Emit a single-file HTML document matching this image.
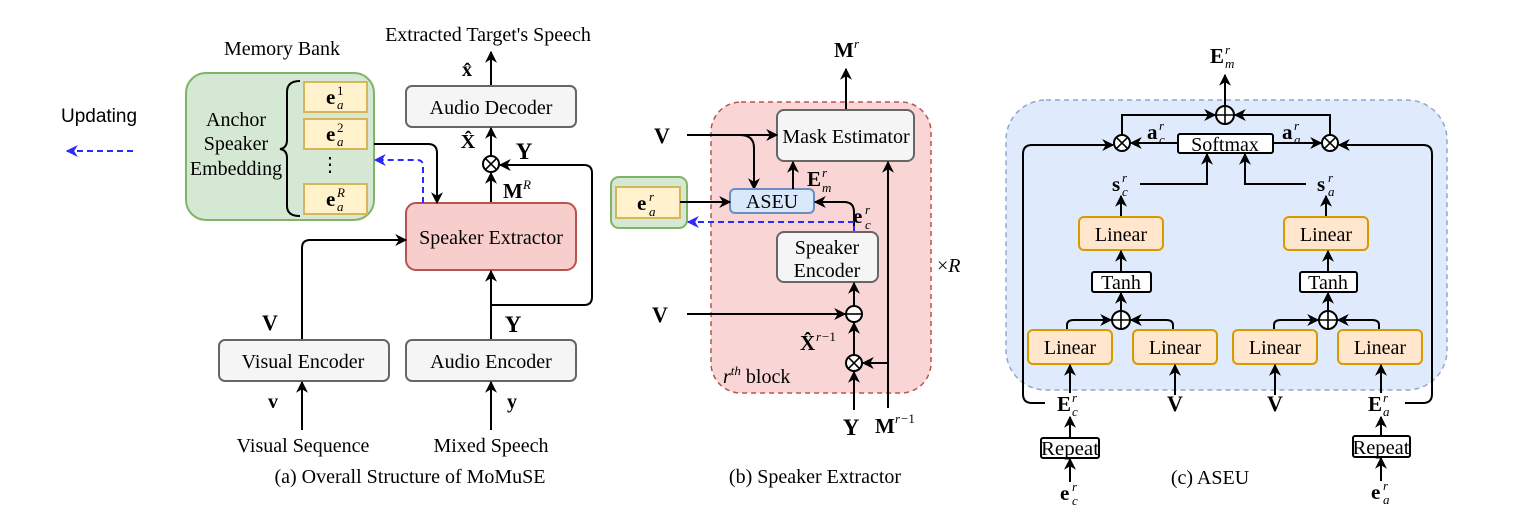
<!DOCTYPE html>
<html><head><meta charset="utf-8"><style>
html,body{margin:0;padding:0;background:#fff}
svg{display:block}
text{font-family:"Liberation Serif",serif;fill:#000}
.t{font-size:20px}
.b{font-weight:bold}
.s{font-size:13px}
.ln{stroke:#000;stroke-width:2;fill:none}
</style></head><body>
<svg width="1528" height="526" viewBox="0 0 1528 526" xmlns="http://www.w3.org/2000/svg">
<defs>
<marker id="a" viewBox="0 0 10 10" refX="9" refY="5" markerWidth="12" markerHeight="12" orient="auto" markerUnits="userSpaceOnUse"><path d="M0,0 L10,5 L0,10 L3,5z" fill="#000"/></marker>
<marker id="bl" viewBox="0 0 10 10" refX="9" refY="5" markerWidth="12" markerHeight="12" orient="auto" markerUnits="userSpaceOnUse"><path d="M0,0 L10,5 L0,10 L3,5z" fill="#2a2aff"/></marker>
</defs>

<!-- ===== Panel (a) ===== -->
<text x="99" y="122" text-anchor="middle" style="font-family:'Liberation Sans',sans-serif;font-size:19px">Updating</text>
<line x1="133" y1="151" x2="67" y2="151" stroke="#2a2aff" stroke-width="2" stroke-dasharray="6,4" marker-end="url(#bl)"/>

<text x="282" y="55" text-anchor="middle" class="t">Memory Bank</text>
<rect x="186" y="73" width="188" height="147" rx="20" fill="#d5e8d4" stroke="#82b366" stroke-width="2"/>
<text x="236" y="126" text-anchor="middle" class="t">Anchor</text>
<text x="236" y="150" text-anchor="middle" class="t">Speaker</text>
<text x="236" y="175" text-anchor="middle" class="t">Embedding</text>
<path d="M300,81 Q287,81 287,92 L287,140 Q287,148 280,149 Q287,150 287,158 L287,206 Q287,216 300,216" class="ln" stroke-width="1.6"/>
<rect x="304" y="82" width="63" height="30" fill="#fff2cc" stroke="#d6b656" stroke-width="2"/>
<rect x="304" y="119" width="63" height="30" fill="#fff2cc" stroke="#d6b656" stroke-width="2"/>
<rect x="304" y="184" width="63" height="30" fill="#fff2cc" stroke="#d6b656" stroke-width="2"/>
<text x="326" y="104" class="b" font-size="21">e</text><text x="337" y="95" class="s">1</text><text x="337" y="109" class="s" font-style="italic">a</text>
<text x="326" y="141" class="b" font-size="21">e</text><text x="337" y="132" class="s">2</text><text x="337" y="146" class="s" font-style="italic">a</text>
<text x="326" y="206" class="b" font-size="21">e</text><text x="337" y="197" class="s" font-style="italic">R</text><text x="337" y="211" class="s" font-style="italic">a</text>
<text x="330" y="171" text-anchor="middle" class="t">⋮</text>

<text x="488" y="41" text-anchor="middle" class="t">Extracted Target's Speech</text>
<line x1="491" y1="86" x2="491" y2="52" class="ln" marker-end="url(#a)"/>
<text x="467" y="76" text-anchor="middle" class="t b">x̂</text>
<rect x="406" y="86" width="170" height="41" rx="6" fill="#f5f5f5" stroke="#666" stroke-width="2"/>
<text x="491" y="114" text-anchor="middle" class="t" fill="#333">Audio Decoder</text>
<text x="468" y="148" text-anchor="middle" class="t b">X̂</text>
<line x1="491" y1="155" x2="491" y2="128" class="ln" marker-end="url(#a)"/>
<circle cx="491" cy="164" r="8" fill="#fff" stroke="#000" stroke-width="2"/>
<path d="M485.3,158.3 L496.7,169.7 M496.7,158.3 L485.3,169.7" stroke="#000" stroke-width="1.6"/>
<text x="524" y="159" text-anchor="middle" class="b" font-size="23">Y</text>
<path d="M491,305 L584,305 Q592,305 592,297 L592,173 Q592,165 584,165 L500,165" class="ln" marker-end="url(#a)"/>
<text x="503" y="198" class="b" font-size="21">M</text><text x="523" y="189" class="s" font-style="italic">R</text>
<line x1="491" y1="203" x2="491" y2="173" class="ln" marker-end="url(#a)"/>
<rect x="406" y="203" width="170" height="67" rx="10" fill="#f8cecc" stroke="#b85450" stroke-width="2"/>
<text x="491" y="244" text-anchor="middle" class="t">Speaker Extractor</text>
<path d="M374,144 L428,144 Q437,144 437,153 L437,203" class="ln" marker-end="url(#a)"/>
<path d="M423,203 L423,166 Q423,160 417,160 L375,160" fill="none" stroke="#2a2aff" stroke-width="2" stroke-dasharray="6,4" marker-end="url(#bl)"/>
<path d="M302,340 L302,248 Q302,240 310,240 L406,240" class="ln" marker-end="url(#a)"/>
<line x1="491" y1="340" x2="491" y2="271" class="ln" marker-end="url(#a)"/>
<text x="270" y="330" text-anchor="middle" class="b" font-size="22">V</text>
<text x="513" y="332" text-anchor="middle" class="b" font-size="23">Y</text>
<rect x="219" y="340" width="170" height="41" rx="6" fill="#f5f5f5" stroke="#666" stroke-width="2"/>
<text x="303" y="368" text-anchor="middle" class="t" fill="#333">Visual Encoder</text>
<rect x="406" y="340" width="170" height="41" rx="6" fill="#f5f5f5" stroke="#666" stroke-width="2"/>
<text x="491" y="368" text-anchor="middle" class="t" fill="#333">Audio Encoder</text>
<line x1="302" y1="430" x2="302" y2="382" class="ln" marker-end="url(#a)"/>
<line x1="491" y1="430" x2="491" y2="382" class="ln" marker-end="url(#a)"/>
<text x="273" y="408" text-anchor="middle" class="t b">v</text>
<text x="512" y="408" text-anchor="middle" class="t b">y</text>
<text x="303" y="452" text-anchor="middle" class="t">Visual Sequence</text>
<text x="491" y="452" text-anchor="middle" class="t">Mixed Speech</text>
<text x="410" y="483" text-anchor="middle" class="t">(a) Overall Structure of MoMuSE</text>

<!-- ===== Panel (b) ===== -->
<rect x="711" y="102" width="220" height="291" rx="30" fill="#f9d6d5" stroke="#b85450" stroke-width="1.5" stroke-dasharray="5,4"/>
<text x="834" y="57" class="b" font-size="21">M</text><text x="854" y="48" class="s" font-style="italic">r</text>
<line x1="846" y1="110" x2="846" y2="69" class="ln" marker-end="url(#a)"/>
<rect x="777" y="110" width="137" height="51" rx="7" fill="#f5f5f5" stroke="#666" stroke-width="2"/>
<text x="846" y="143" text-anchor="middle" class="t" fill="#333">Mask Estimator</text>
<text x="662" y="143" text-anchor="middle" class="b" font-size="22">V</text>
<line x1="687" y1="135" x2="777" y2="135" class="ln" marker-end="url(#a)"/>
<path d="M740,135 Q754,135 754,148 L754,189" class="ln" marker-end="url(#a)"/>
<rect x="730" y="189" width="84" height="24" rx="5" fill="#dae8fc" stroke="#6c8ebf" stroke-width="2"/>
<text x="772" y="208" text-anchor="middle" class="t">ASEU</text>
<line x1="793" y1="189" x2="793" y2="162" class="ln" marker-end="url(#a)"/>
<text x="807" y="186" class="b" font-size="21">E</text><text x="822" y="177" class="s" font-style="italic">r</text><text x="822" y="192" class="s" font-style="italic">m</text>
<rect x="611" y="177" width="76" height="51" rx="8" fill="#d5e8d4" stroke="#82b366" stroke-width="2"/>
<rect x="616" y="187" width="64" height="31" fill="#fff2cc" stroke="#d6b656" stroke-width="2"/>
<text x="637" y="210" class="b" font-size="21">e</text><text x="649" y="201" class="s" font-style="italic">r</text><text x="649" y="216" class="s" font-style="italic">a</text>
<line x1="680" y1="202" x2="730" y2="202" class="ln" marker-end="url(#a)"/>
<path d="M854,232 L854,212 Q854,202 844,202 L815,202" class="ln" marker-end="url(#a)"/>
<path d="M854,232 L854,222 L688,222" fill="none" stroke="#2a2aff" stroke-width="2" stroke-dasharray="6,4" marker-end="url(#bl)"/>
<text x="853" y="223" class="b" font-size="21">e</text><text x="865" y="214" class="s" font-style="italic">r</text><text x="865" y="229" class="s" font-style="italic">c</text>
<rect x="777" y="232" width="101" height="50" rx="7" fill="#f5f5f5" stroke="#666" stroke-width="2"/>
<text x="827" y="254" text-anchor="middle" class="t" fill="#333">Speaker</text>
<text x="827" y="277" text-anchor="middle" class="t" fill="#333">Encoder</text>
<text x="937" y="272" class="t">×<tspan font-style="italic">R</tspan></text>
<line x1="888" y1="408" x2="888" y2="162" class="ln" marker-end="url(#a)"/>
<text x="660" y="322" text-anchor="middle" class="b" font-size="22">V</text>
<line x1="687" y1="314" x2="845" y2="314" class="ln" marker-end="url(#a)"/>
<circle cx="854" cy="314" r="8" fill="#fff" stroke="#000" stroke-width="2"/>
<line x1="846" y1="314" x2="862" y2="314" stroke="#000" stroke-width="1.6"/>
<line x1="854" y1="306" x2="854" y2="283" class="ln" marker-end="url(#a)"/>
<text x="800" y="350" class="b" font-size="21">X̂</text><text x="816" y="341" class="s" font-style="italic">r</text><text x="822" y="341" class="s">−1</text>
<line x1="854" y1="355" x2="854" y2="323" class="ln" marker-end="url(#a)"/>
<circle cx="854" cy="363" r="8" fill="#fff" stroke="#000" stroke-width="2"/>
<path d="M848.3,357.3 L859.7,368.7 M859.7,357.3 L848.3,368.7" stroke="#000" stroke-width="1.6"/>
<line x1="888" y1="363" x2="863" y2="363" class="ln" marker-end="url(#a)"/>
<line x1="854" y1="410" x2="854" y2="372" class="ln" marker-end="url(#a)"/>
<text x="851" y="435" text-anchor="middle" class="b" font-size="23">Y</text>
<text x="875" y="433" class="b" font-size="21">M</text><text x="895" y="423" class="s" font-style="italic">r</text><text x="901" y="423" class="s">−1</text>
<text x="723" y="383" class="t"><tspan font-style="italic">r</tspan><tspan font-size="13" font-style="italic" dy="-8">th</tspan><tspan dy="8"> block</tspan></text>
<text x="815" y="483" text-anchor="middle" class="t">(b) Speaker Extractor</text>

<!-- ===== Panel (c) ===== -->
<rect x="1006" y="100" width="441" height="290" rx="40" fill="#dfeafc" stroke="#8fa9cc" stroke-width="1.5" stroke-dasharray="5,4"/>
<text x="1210" y="63" class="b" font-size="21">E</text><text x="1225" y="54" class="s" font-style="italic">r</text><text x="1225" y="68" class="s" font-style="italic">m</text>
<line x1="1225" y1="106" x2="1225" y2="75" class="ln" marker-end="url(#a)"/>
<circle cx="1225" cy="115" r="9" fill="#fff" stroke="#000" stroke-width="2"/>
<path d="M1216,115 L1234,115 M1225,106 L1225,124" stroke="#000" stroke-width="1.6"/>
<path d="M1122,135 L1122,115 L1215,115" class="ln" marker-end="url(#a)"/>
<path d="M1330,135 L1330,115 L1235,115" class="ln" marker-end="url(#a)"/>
<rect x="1178" y="134" width="95" height="19" rx="2" fill="#fff" stroke="#000" stroke-width="2"/>
<text x="1225" y="151" text-anchor="middle" class="t">Softmax</text>
<circle cx="1122" cy="143" r="8" fill="#fff" stroke="#000" stroke-width="2"/>
<path d="M1116.3,137.3 L1127.7,148.7 M1127.7,137.3 L1116.3,148.7" stroke="#000" stroke-width="1.6"/>
<circle cx="1330" cy="143" r="8" fill="#fff" stroke="#000" stroke-width="2"/>
<path d="M1324.3,137.3 L1335.7,148.7 M1335.7,137.3 L1324.3,148.7" stroke="#000" stroke-width="1.6"/>
<line x1="1178" y1="143" x2="1131" y2="143" class="ln" marker-end="url(#a)"/>
<line x1="1273" y1="143" x2="1321" y2="143" class="ln" marker-end="url(#a)"/>
<text x="1147" y="139" class="b" font-size="21">a</text><text x="1159" y="130" class="s" font-style="italic">r</text><text x="1159" y="144" class="s" font-style="italic">c</text>
<text x="1282" y="139" class="b" font-size="21">a</text><text x="1294" y="130" class="s" font-style="italic">r</text><text x="1294" y="144" class="s" font-style="italic">a</text>
<path d="M1045,403 L1032,403 Q1023,403 1023,394 L1023,154 Q1023,145 1032,145 L1113,145" class="ln" marker-end="url(#a)"/>
<path d="M1405,403 L1423,403 Q1432,403 1432,394 L1432,154 Q1432,145 1423,145 L1339,145" class="ln" marker-end="url(#a)"/>
<text x="1112" y="191" class="b" font-size="21">s</text><text x="1122" y="182" class="s" font-style="italic">r</text><text x="1122" y="196" class="s" font-style="italic">c</text>
<text x="1317" y="191" class="b" font-size="21">s</text><text x="1328" y="182" class="s" font-style="italic">r</text><text x="1328" y="196" class="s" font-style="italic">a</text>
<path d="M1140,184 L1207,184 L1207,154" class="ln" marker-end="url(#a)"/>
<path d="M1306,184 L1245,184 L1245,154" class="ln" marker-end="url(#a)"/>
<line x1="1121" y1="217" x2="1121" y2="196" class="ln" marker-end="url(#a)"/>
<line x1="1326" y1="217" x2="1326" y2="196" class="ln" marker-end="url(#a)"/>
<rect x="1079" y="217" width="84" height="33" rx="5" fill="#ffe6cc" stroke="#d79b00" stroke-width="2"/>
<text x="1121" y="241" text-anchor="middle" class="t">Linear</text>
<rect x="1284" y="217" width="84" height="33" rx="5" fill="#ffe6cc" stroke="#d79b00" stroke-width="2"/>
<text x="1326" y="241" text-anchor="middle" class="t">Linear</text>
<line x1="1121" y1="272" x2="1121" y2="251" class="ln" marker-end="url(#a)"/>
<line x1="1328" y1="272" x2="1328" y2="251" class="ln" marker-end="url(#a)"/>
<rect x="1092" y="272" width="59" height="20" rx="2" fill="#fff" stroke="#000" stroke-width="2"/>
<text x="1121" y="289" text-anchor="middle" class="t">Tanh</text>
<rect x="1300" y="272" width="57" height="20" rx="2" fill="#fff" stroke="#000" stroke-width="2"/>
<text x="1328" y="289" text-anchor="middle" class="t">Tanh</text>
<line x1="1121" y1="311" x2="1121" y2="293" class="ln" marker-end="url(#a)"/>
<line x1="1328" y1="311" x2="1328" y2="293" class="ln" marker-end="url(#a)"/>
<circle cx="1121" cy="320" r="9" fill="#fff" stroke="#000" stroke-width="2"/>
<path d="M1112,320 L1130,320 M1121,311 L1121,329" stroke="#000" stroke-width="1.6"/>
<circle cx="1328" cy="320" r="9" fill="#fff" stroke="#000" stroke-width="2"/>
<path d="M1319,320 L1337,320 M1328,311 L1328,329" stroke="#000" stroke-width="1.6"/>
<path d="M1067,330 L1067,325 Q1067,320 1074,320 L1111,320" class="ln" marker-end="url(#a)"/>
<path d="M1173,330 L1173,325 Q1173,320 1166,320 L1131,320" class="ln" marker-end="url(#a)"/>
<path d="M1274,330 L1274,325 Q1274,320 1281,320 L1318,320" class="ln" marker-end="url(#a)"/>
<path d="M1379,330 L1379,325 Q1379,320 1372,320 L1338,320" class="ln" marker-end="url(#a)"/>
<rect x="1028" y="330" width="84" height="34" rx="5" fill="#ffe6cc" stroke="#d79b00" stroke-width="2"/>
<text x="1070" y="354" text-anchor="middle" class="t">Linear</text>
<rect x="1133" y="330" width="84" height="34" rx="5" fill="#ffe6cc" stroke="#d79b00" stroke-width="2"/>
<text x="1175" y="354" text-anchor="middle" class="t">Linear</text>
<rect x="1233" y="330" width="84" height="34" rx="5" fill="#ffe6cc" stroke="#d79b00" stroke-width="2"/>
<text x="1275" y="354" text-anchor="middle" class="t">Linear</text>
<rect x="1338" y="330" width="84" height="34" rx="5" fill="#ffe6cc" stroke="#d79b00" stroke-width="2"/>
<text x="1380" y="354" text-anchor="middle" class="t">Linear</text>
<line x1="1070" y1="393" x2="1070" y2="365" class="ln" marker-end="url(#a)"/>
<line x1="1175" y1="395" x2="1175" y2="365" class="ln" marker-end="url(#a)"/>
<line x1="1275" y1="395" x2="1275" y2="365" class="ln" marker-end="url(#a)"/>
<line x1="1381" y1="393" x2="1381" y2="365" class="ln" marker-end="url(#a)"/>
<text x="1175" y="411" text-anchor="middle" class="b" font-size="22">V</text>
<text x="1275" y="411" text-anchor="middle" class="b" font-size="22">V</text>
<text x="1057" y="411" class="b" font-size="21">E</text><text x="1072" y="402" class="s" font-style="italic">r</text><text x="1072" y="416" class="s" font-style="italic">c</text>
<text x="1368" y="411" class="b" font-size="21">E</text><text x="1383" y="402" class="s" font-style="italic">r</text><text x="1383" y="416" class="s" font-style="italic">a</text>
<line x1="1070" y1="438" x2="1070" y2="417" class="ln" marker-end="url(#a)"/>
<line x1="1381" y1="436" x2="1381" y2="417" class="ln" marker-end="url(#a)"/>
<rect x="1041" y="438" width="58" height="20" rx="2" fill="#fff" stroke="#000" stroke-width="2"/>
<text x="1070" y="455" text-anchor="middle" class="t" textLength="58" lengthAdjust="spacingAndGlyphs">Repeat</text>
<rect x="1353" y="436" width="57" height="21" rx="2" fill="#fff" stroke="#000" stroke-width="2"/>
<text x="1381" y="454" text-anchor="middle" class="t" textLength="57" lengthAdjust="spacingAndGlyphs">Repeat</text>
<line x1="1070" y1="482" x2="1070" y2="459" class="ln" marker-end="url(#a)"/>
<line x1="1381" y1="481" x2="1381" y2="458" class="ln" marker-end="url(#a)"/>
<text x="1060" y="500" class="b" font-size="21">e</text><text x="1072" y="491" class="s" font-style="italic">r</text><text x="1072" y="505" class="s" font-style="italic">c</text>
<text x="1371" y="499" class="b" font-size="21">e</text><text x="1383" y="490" class="s" font-style="italic">r</text><text x="1383" y="504" class="s" font-style="italic">a</text>
<text x="1210" y="484" text-anchor="middle" class="t">(c) ASEU</text>
</svg>
</body></html>
